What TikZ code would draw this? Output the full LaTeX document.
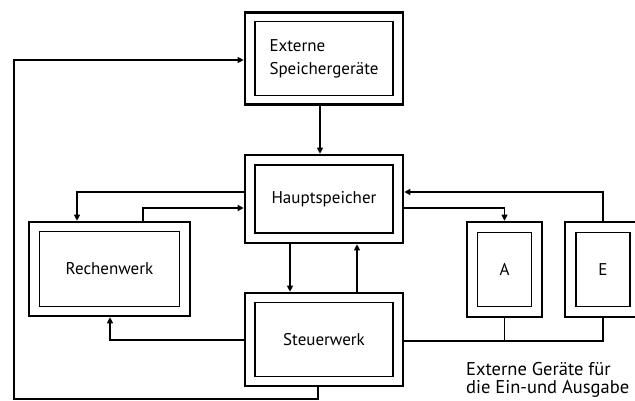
\documentclass[tikz,border=0pt]{standalone}
\usepackage{fontspec}
\setmainfont{PT Sans}
\usetikzlibrary{arrows.meta}

\begin{document}
\begin{tikzpicture}[>={Triangle[length=6pt,width=6pt]},x=1pt,y=-1pt,
  every node/.style={font=\fontsize{17}{23}\selectfont},
  outerbox/.style={draw,line width=2.6pt,inner sep=0pt},
  innerbox/.style={draw,line width=1.2pt,inner sep=0pt},
  conn/.style={line width=1.1pt}]
\useasboundingbox (0,0) rectangle (635,401);
% Einheiten: aussen dick, innen duenn
\node[outerbox,minimum width=158pt,minimum height=92pt] (ext) at (324,58.5) {};
\node[innerbox,minimum width=138pt,minimum height=74pt,align=left] (ext-in) at (ext) {Externe\\Speichergeräte};
\node[outerbox,minimum width=158pt,minimum height=88pt] (haupt) at (324,199) {};
\node[innerbox,minimum width=138pt,minimum height=68pt] (haupt-in) at (haupt) {Hauptspeicher};
\node[outerbox,minimum width=161pt,minimum height=94pt] (rechen) at (109.5,269) {};
\node[innerbox,minimum width=140pt,minimum height=75pt] (rechen-in) at (rechen) {Rechenwerk};
\node[outerbox,minimum width=158pt,minimum height=93pt] (steuer) at (324,339.5) {};
\node[innerbox,minimum width=138pt,minimum height=74pt] (steuer-in) at (steuer) {Steuerwerk};
\node[outerbox,minimum width=75pt,minimum height=95pt] (ausg) at (504.5,269.5) {};
\node[innerbox,minimum width=54pt,minimum height=74pt] (ausg-in) at (ausg) {A};
\node[outerbox,minimum width=76pt,minimum height=95pt] (eing) at (603,269.5) {};
\node[innerbox,minimum width=54pt,minimum height=74pt] (eing-in) at (eing) {E};
\node[align=left,anchor=north west,inner sep=0pt,font=\fontsize{18.5}{18.5}\selectfont] (note) at (466,362) {Externe Geräte für\\die Ein-und Ausgabe};
% Verbindungen
\coordinate (loopA) at (318,399);
\coordinate (loopB) at (14,399);
\coordinate (loopC) at (14,60);
\draw[conn,->] (steuer.south -| loopA) -- (loopA) -- (loopB) -- (loopC) -- (ext.west |- loopC);
\draw[conn,->] (ext.south -| 320,0) -- (haupt.north -| 320,0);
\draw[conn,->] (haupt.west |- 0,192) -| (rechen.north -| 77,0);
\draw[conn,->] (rechen.north -| 143,0) |- (haupt.west |- 0,208);
\draw[conn,->] (haupt.south -| 290,0) -- (steuer.north -| 290,0);
\draw[conn,->] (steuer.north -| 357,0) -- (haupt.south -| 357,0);
\draw[conn,->] (steuer.west |- 0,340) -| (rechen.south -| 110,0);
\draw[conn,->] (eing.north) |- (haupt.east |- 0,192);
\draw[conn,->] (haupt.east |- 0,208) -| (ausg.north);
\draw[conn] (steuer.east |- 0,341) -| (eing.south);
\draw[conn] (ausg.south) -- (ausg.south |- 0,341);
\end{tikzpicture}
\end{document}
